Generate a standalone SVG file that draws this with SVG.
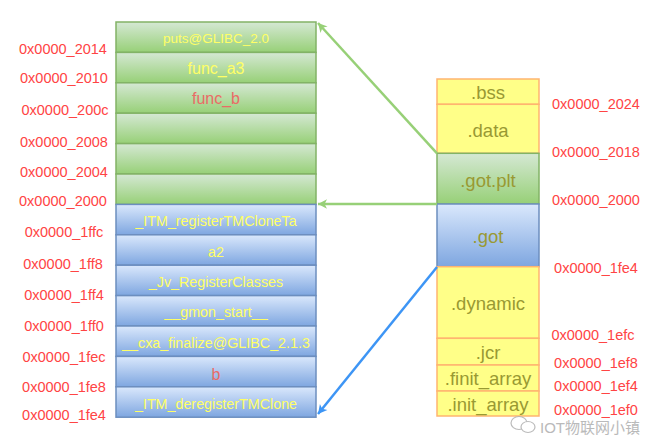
<svg xmlns="http://www.w3.org/2000/svg" width="651" height="437" viewBox="0 0 651 437">
<defs>
<linearGradient id="gG" x1="0" y1="0" x2="0" y2="1"><stop offset="0" stop-color="#d5e8d4"/><stop offset="1" stop-color="#97d077"/></linearGradient>
<linearGradient id="gB" x1="0" y1="0" x2="0" y2="1"><stop offset="0" stop-color="#dae8fc"/><stop offset="1" stop-color="#7ea6e0"/></linearGradient>
<marker id="aG" viewBox="0 0 10 10" refX="9" refY="5" markerWidth="6" markerHeight="6" markerUnits="userSpaceOnUse" orient="auto" overflow="visible"><path d="M-6,-3 L9,5 L-6,13 L-2,5 Z" fill="#97d077"/></marker>
<marker id="aB" viewBox="0 0 10 10" refX="9" refY="5" markerWidth="6" markerHeight="6" markerUnits="userSpaceOnUse" orient="auto" overflow="visible"><path d="M-6,-3 L9,5 L-6,13 L-2,5 Z" fill="#3d95f5"/></marker>
</defs>
<style>
.g{fill:url(#gG);stroke:#82b366;stroke-width:1.5}
.b{fill:url(#gB);stroke:#6c8ebf;stroke-width:1.5}
.y{fill:#ffff88;stroke:#ffb570;stroke-width:1.5}
text{font-family:"Liberation Sans",Arial,sans-serif;text-anchor:middle;dominant-baseline:central}
.ct{fill:#ffff66;font-size:14.3px}
.rt{fill:#ea6b66;font-size:16px}
.lb{fill:#ff4444;font-size:14.5px}
.ot{fill:#999933;font-size:18.5px}
.wm{fill:#9a9a9a;font-size:15px;opacity:0.8;text-anchor:start;font-family:"Liberation Sans","Noto Sans CJK SC",sans-serif}
</style>
<rect width="651" height="437" fill="#ffffff"/>

<g id="left-labels">
<text class="lb" x="63" y="49">0x0000_2014</text>
<text class="lb" x="64" y="78">0x0000_2010</text>
<text class="lb" x="65" y="110">0x0000_200c</text>
<text class="lb" x="64" y="142">0x0000_2008</text>
<text class="lb" x="64" y="172">0x0000_2004</text>
<text class="lb" x="63" y="201">0x0000_2000</text>
<text class="lb" x="64" y="232">0x0000_1ffc</text>
<text class="lb" x="63" y="264">0x0000_1ff8</text>
<text class="lb" x="64" y="295">0x0000_1ff4</text>
<text class="lb" x="64" y="326">0x0000_1ff0</text>
<text class="lb" x="64" y="357">0x0000_1fec</text>
<text class="lb" x="64" y="387">0x0000_1fe8</text>
<text class="lb" x="64" y="415">0x0000_1fe4</text>
</g>

<g id="got-cells">
<g id="c1"><rect class="g" x="116" y="22" width="200" height="30.4"/><text class="ct" x="216" y="38.5" style="font-size:13.5px">puts@GLIBC_2.0</text></g>
<g id="c2"><rect class="g" x="116" y="52.4" width="200" height="30.4"/><text class="ct" x="216" y="68" style="font-size:16px">func_a3</text></g>
<g id="c3"><rect class="g" x="116" y="82.8" width="200" height="30.4"/><text class="rt" x="216" y="98.5">func_b</text></g>
<g id="c4"><rect class="g" x="116" y="113.2" width="200" height="30.4"/></g>
<g id="c5"><rect class="g" x="116" y="143.6" width="200" height="30.4"/></g>
<g id="c6"><rect class="g" x="116" y="174" width="200" height="30.4"/></g>
<g id="c7"><rect class="b" x="116" y="204.4" width="200" height="30.4"/><text class="ct" x="216" y="220.5">_ITM_registerTMCloneTa</text></g>
<g id="c8"><rect class="b" x="116" y="234.8" width="200" height="30.4"/><text class="ct" x="216" y="251.5">a2</text></g>
<g id="c9"><rect class="b" x="116" y="265.2" width="200" height="30.4"/><text class="ct" x="216" y="282">_Jv_RegisterClasses</text></g>
<g id="c10"><rect class="b" x="116" y="295.6" width="200" height="30.4"/><text class="ct" x="216" y="312">__gmon_start__</text></g>
<g id="c11"><rect class="b" x="116" y="326" width="200" height="30.4"/><text class="ct" x="216" y="343">__cxa_finalize@GLIBC_2.1.3</text></g>
<g id="c12"><rect class="b" x="116" y="356.4" width="200" height="30.4"/><text class="rt" x="216" y="374">b</text></g>
<g id="c13"><rect class="b" x="116" y="386.8" width="200" height="30.4"/><text class="ct" x="216" y="403.5">_ITM_deregisterTMClone</text></g>
</g>

<g id="sections">
<g id="bss"><rect class="y" x="437" y="79" width="102" height="25.3"/><text class="ot" x="488" y="92">.bss</text></g>
<g id="data"><rect class="y" x="437" y="104.3" width="102" height="49"/><text class="ot" x="488" y="130">.data</text></g>
<g id="gotplt"><rect class="g" x="437" y="153.3" width="102" height="50.7"/><text class="ot" x="488" y="180.5">.got.plt</text></g>
<g id="got"><rect class="b" x="437" y="204" width="102" height="62.7"/><text class="ot" x="488" y="236">.got</text></g>
<g id="dynamic"><rect class="y" x="437" y="266.7" width="102" height="71.6"/><text class="ot" x="488" y="303">.dynamic</text></g>
<g id="jcr"><rect class="y" x="437" y="338.3" width="102" height="26.7"/><text class="ot" x="488" y="352">.jcr</text></g>
<g id="finit"><rect class="y" x="437" y="365" width="102" height="26"/><text class="ot" x="488" y="378">.finit_array</text></g>
<g id="init"><rect class="y" x="437" y="391" width="102" height="25"/><text class="ot" x="488" y="404">.init_array</text></g>
</g>

<g id="right-labels">
<text class="lb" x="596" y="104">0x0000_2024</text>
<text class="lb" x="596" y="152">0x0000_2018</text>
<text class="lb" x="596" y="200">0x0000_2000</text>
<text class="lb" x="596" y="268">0x0000_1fe4</text>
<text class="lb" x="593" y="335">0x0000_1efc</text>
<text class="lb" x="596" y="363">0x0000_1ef8</text>
<text class="lb" x="596" y="386">0x0000_1ef4</text>
<text class="lb" x="596" y="410">0x0000_1ef0</text>
</g>

<g id="connectors" fill="none" stroke-width="2.5">
<path d="M437,153.3 L318,23" stroke="#97d077" marker-end="url(#aG)"/>
<path d="M437,204 L318,204" stroke="#97d077" marker-end="url(#aG)"/>
<path d="M437,267 L318,414" stroke="#3d95f5" marker-end="url(#aB)"/>
</g>

<g id="watermark" opacity="0.85">
<ellipse cx="519" cy="423" rx="8" ry="6.5" fill="#ffffff" stroke="#b0b0b0" stroke-width="1.2"/>
<ellipse cx="528" cy="427" rx="7" ry="5.5" fill="#ffffff" stroke="#b0b0b0" stroke-width="1.2"/>
<text class="wm" x="540" y="427">IOT物联网小镇</text>
</g>
</svg>
